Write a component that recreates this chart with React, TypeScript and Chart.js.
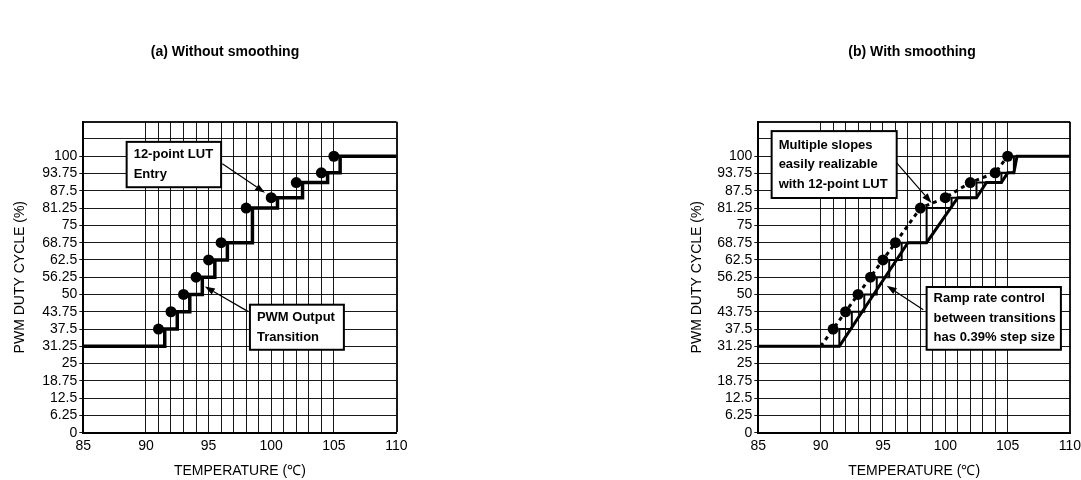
import React, { useEffect, useRef } from 'react';
import { Chart, registerables } from 'chart.js';

Chart.register(...registerables);

// ---------- data ----------
// 12-point look-up table (temperature °C, duty %)
const lutTemp = [90, 91, 92, 93, 94, 95, 96, 98, 100, 102, 104, 105];
const lutDuty = [31.25, 37.5, 43.75, 50, 56.25, 62.5, 68.75, 81.25, 85, 90.5, 94, 100];

// PWM output staircase (transition points)
const stepTemp = [85, 91.5, 92.5, 93.5, 94.5, 95.5, 96.5, 98.5, 100.5, 102.5, 104.5, 105.5, 110];
const stepDuty = [31.25, 37.5, 43.75, 50, 56.25, 62.5, 68.75, 81.25, 85, 90.5, 94, 100, 100];

// Ramp-rate-limited output (with smoothing)
const rampTemp = [85, 91.5, 97, 98.5, 101, 102.5, 103.3, 104.5, 105, 105.5, 105.75, 110];
const rampDuty = [31.25, 31.25, 68.75, 68.75, 85, 85, 90.5, 90.5, 94, 94, 100, 100];

// axis ticks
const xTickValues = [85, 90, 91, 92, 93, 94, 95, 96, 97, 98, 99, 100, 101, 102, 103, 104, 105, 110];
const xTickLabels = ['85', '90', '95', '100', '105', '110'];
const yTickValues = [0, 6.25, 12.5, 18.75, 25, 31.25, 37.5, 43.75, 50, 56.25, 62.5, 68.75, 75, 81.25, 87.5, 93.75, 100, 106.25, 112.5];
const yTickLabels = ['0', '6.25', '12.5', '18.75', '25', '31.25', '37.5', '43.75', '50', '56.25', '62.5', '68.75', '75', '81.25', '87.5', '93.75', '100'];

const titleA = '(a) Without smoothing';
const titleB = '(b) With smoothing';
const xTitle = 'TEMPERATURE (\u2103)';
const yTitle = 'PWM DUTY CYCLE (%)';

const FONT = "'Liberation Sans', Arial, Helvetica, sans-serif";

type Box = { x0: number; x1: number; y0: number; y1: number; lines: string[] };
type Arrow = { x0: number; y0: number; x1: number; y1: number };

const boxesA: Box[] = [
  { x0: 88.46, x1: 96.0, y0: 88.8, y1: 105.2, lines: ['12-point LUT', 'Entry'] },
  { x0: 98.3, x1: 105.8, y0: 30.0, y1: 46.3, lines: ['PWM Output', 'Transition'] },
];
const arrowsA: Arrow[] = [
  { x0: 96.1, y0: 97.3, x1: 99.5, y1: 86.8 },
  { x0: 98.17, y0: 43.8, x1: 94.7, y1: 52.9 },
];
const boxesB: Box[] = [
  { x0: 86.07, x1: 96.1, y0: 84.9, y1: 109.1, lines: ['Multiple slopes', 'easily realizable', 'with 12-point LUT'] },
  { x0: 98.5, x1: 109.27, y0: 30.0, y1: 52.7, lines: ['Ramp rate control', 'between transitions', 'has 0.39% step size'] },
];
const arrowsB: Arrow[] = [
  { x0: 96.1, y0: 97.6, x1: 98.9, y1: 83.1 },
  { x0: 98.23, y0: 44.5, x1: 95.3, y1: 53.2 },
];

const pts = (xs: number[], ys: number[]) => xs.map((x, i) => ({ x, y: ys[i] }));

function annotPlugin(title: string, titleX: number, titleY: number, boxes: Box[], arrows: Arrow[]) {
  return {
    id: 'annot',
    afterDraw(chart: any) {
      const { ctx } = chart;
      const xs = chart.scales.x;
      const ys = chart.scales.y;
      ctx.save();
      // title
      ctx.fillStyle = '#000';
      ctx.font = `bold 14px ${FONT}`;
      ctx.textAlign = 'center';
      ctx.textBaseline = 'middle';
      ctx.fillText(title, titleX, titleY);
      // boxes
      boxes.forEach((b) => {
        const l = xs.getPixelForValue(b.x0);
        const r = xs.getPixelForValue(b.x1);
        const t = ys.getPixelForValue(b.y1);
        const bt = ys.getPixelForValue(b.y0);
        ctx.fillStyle = '#fff';
        ctx.fillRect(l, t, r - l, bt - t);
        ctx.lineWidth = 2;
        ctx.strokeStyle = '#000';
        ctx.strokeRect(l, t, r - l, bt - t);
        ctx.fillStyle = '#000';
        ctx.font = `bold 13px ${FONT}`;
        ctx.textAlign = 'left';
        ctx.textBaseline = 'middle';
        const spacing = 19.5;
        const cy = (t + bt) / 2;
        const n = b.lines.length;
        b.lines.forEach((line, i) => {
          ctx.fillText(line, l + 7, cy + (i - (n - 1) / 2) * spacing);
        });
      });
      // arrows
      arrows.forEach((a) => {
        const x0 = xs.getPixelForValue(a.x0);
        const y0 = ys.getPixelForValue(a.y0);
        const x1 = xs.getPixelForValue(a.x1);
        const y1 = ys.getPixelForValue(a.y1);
        const ang = Math.atan2(y1 - y0, x1 - x0);
        const len = 10;
        const hw = 3.5;
        const bx = x1 - len * Math.cos(ang);
        const by = y1 - len * Math.sin(ang);
        ctx.strokeStyle = '#000';
        ctx.lineWidth = 1.2;
        ctx.beginPath();
        ctx.moveTo(x0, y0);
        ctx.lineTo(bx, by);
        ctx.stroke();
        ctx.fillStyle = '#000';
        ctx.beginPath();
        ctx.moveTo(x1, y1);
        ctx.lineTo(bx + hw * Math.sin(ang), by - hw * Math.cos(ang));
        ctx.lineTo(bx - hw * Math.sin(ang), by + hw * Math.cos(ang));
        ctx.closePath();
        ctx.fill();
      });
      ctx.restore();
    },
  };
}

type Geom = { padLeft: number; padRight: number; yWidth: number };

function scales(g: Geom) {
  return {
    x: {
      type: 'linear',
      min: 85,
      max: 110,
      afterBuildTicks: (scale: any) => {
        scale.ticks = xTickValues.map((v) => ({ value: v }));
      },
      afterFit: (scale: any) => {
        scale.height = 47.3;
        scale.paddingLeft = 0;
        scale.paddingRight = 0;
      },
      ticks: {
        autoSkip: false,
        maxRotation: 0,
        minRotation: 0,
        padding: 5,
        color: '#000',
        font: { size: 14, family: FONT },
        callback: (v: number) => (xTickLabels.includes(String(v)) ? String(v) : ''),
      },
      grid: {
        color: 'rgba(0,0,0,0.9)',
        lineWidth: (c: any) => (c.tick && c.tick.value === 110 ? 2 : 1),
        drawTicks: false,
      },
      border: { display: true, color: '#000', width: 2 },
      title: {
        display: true,
        text: xTitle,
        color: '#000',
        font: { size: 14, family: FONT },
        padding: { top: 0, bottom: 0 },
      },
    },
    y: {
      type: 'linear',
      min: 0,
      max: 112.5,
      afterBuildTicks: (scale: any) => {
        scale.ticks = yTickValues.map((v) => ({ value: v }));
      },
      afterFit: (scale: any) => {
        scale.width = g.yWidth;
        scale.paddingTop = 0;
        scale.paddingBottom = 0;
      },
      ticks: {
        autoSkip: false,
        padding: 2,
        color: '#000',
        font: { size: 14, family: FONT },
        callback: (v: number) => {
          const i = yTickValues.indexOf(v);
          return i >= 0 && i < yTickLabels.length ? yTickLabels[i] : '';
        },
      },
      grid: {
        color: 'rgba(0,0,0,0.9)',
        tickColor: (c: any) => (c.tick && c.tick.value > 100 ? 'rgba(0,0,0,0)' : 'rgba(0,0,0,0.9)'),
        lineWidth: (c: any) => (c.tick && c.tick.value === 112.5 ? 2 : 1),
        drawTicks: true,
        tickLength: 4,
      },
      border: { display: true, color: '#000', width: 2 },
      title: {
        display: true,
        text: yTitle,
        color: '#000',
        font: { size: 14, family: FONT },
        padding: { top: 12, bottom: 0 },
      },
    },
  };
}

function makeConfig(which: 'a' | 'b', g: Geom, plugin: any) {
  const dots = {
    data: pts(lutTemp, lutDuty),
    showLine: false,
    pointRadius: (c: any) => (c.dataIndex === 0 ? 0 : 5.5),
    pointHoverRadius: 0,
    pointBackgroundColor: '#000',
    pointBorderColor: '#000',
    pointBorderWidth: 0,
  };
  const datasets: any[] =
    which === 'a'
      ? [
          dots,
          {
            data: pts(stepTemp, stepDuty),
            stepped: 'before',
            borderColor: '#000',
            borderWidth: 3.5,
            pointRadius: 0,
            fill: false,
          },
        ]
      : [
          dots,
          {
            data: pts(lutTemp, lutDuty),
            borderColor: '#000',
            borderWidth: 3,
            borderDash: [4, 4],
            pointRadius: 0,
            fill: false,
            tension: 0,
          },
          {
            data: pts(rampTemp, rampDuty),
            borderColor: '#000',
            borderWidth: 3,
            pointRadius: 0,
            fill: false,
            tension: 0,
          },
          {
            data: pts(stepTemp, stepDuty),
            stepped: 'before',
            borderColor: '#000',
            borderWidth: 2,
            pointRadius: 0,
            fill: false,
          },
        ];
  return {
    type: 'line',
    data: { datasets },
    options: {
      responsive: false,
      animation: false,
      events: [],
      layout: { padding: { left: g.padLeft, right: g.padRight, top: 121.7, bottom: 0 } },
      plugins: { legend: { display: false }, tooltip: { enabled: false }, title: { display: false } },
      scales: scales(g),
    },
    plugins: [plugin],
  } as any;
}

function ChartPanel(props: { which: 'a' | 'b'; left: number; g: Geom; plugin: any }) {
  const ref = useRef<HTMLCanvasElement>(null);
  useEffect(() => {
    if (!ref.current) return;
    const chart = new Chart(ref.current, makeConfig(props.which, props.g, props.plugin));
    return () => chart.destroy();
  }, []);
  return (
    <canvas
      ref={ref}
      width={540}
      height={480}
      style={{ position: 'absolute', left: props.left, top: 0, width: 540, height: 480 }}
    />
  );
}

export default function App() {
  Chart.defaults.font.family = FONT;
  Chart.defaults.color = '#000';
  const gA: Geom = { padLeft: 0, padRight: 143.5, yWidth: 83.3 };
  const gB: Geom = { padLeft: 136, padRight: 11, yWidth: 81.3 };
  const pA = annotPlugin(titleA, 225, 52, boxesA, arrowsA);
  const pB = annotPlugin(titleB, 912 - 541, 52, boxesB, arrowsB);
  return (
    <div style={{ position: 'absolute', left: 0, top: 0, width: 1081, height: 480, background: '#fff', overflow: 'hidden' }}>
      <ChartPanel which="a" left={0} g={gA} plugin={pA} />
      <ChartPanel which="b" left={541} g={gB} plugin={pB} />
    </div>
  );
}
